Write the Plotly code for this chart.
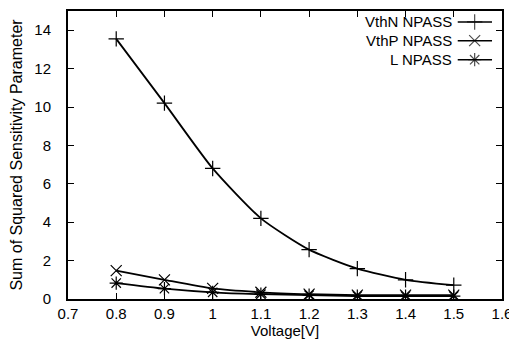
import plotly.graph_objects as go

voltage = [0.8, 0.9, 1.0, 1.1, 1.2, 1.3, 1.4, 1.5]
vthn_npass = [13.55, 10.2, 6.8, 4.2, 2.57, 1.58, 1.0, 0.72]
vthp_npass = [1.48, 1.0, 0.55, 0.35, 0.25, 0.2, 0.2, 0.2]
l_npass = [0.83, 0.54, 0.35, 0.25, 0.2, 0.15, 0.15, 0.15]
series_names = ["VthN NPASS", "VthP NPASS", "L NPASS"]
series_symbols = ["cross-thin-open", "x-thin-open", "asterisk-open"]
x_ticks = [0.7, 0.8, 0.9, 1.0, 1.1, 1.2, 1.3, 1.4, 1.5, 1.6]
x_tick_labels = ["0.7", "0.8", "0.9", "1", "1.1", "1.2", "1.3", "1.4", "1.5", "1.6"]
y_ticks = [0, 2, 4, 6, 8, 10, 12, 14]

FONT = "Liberation Sans, Arial, sans-serif"
fig = go.Figure()
for name, vals, sym in zip(series_names, [vthn_npass, vthp_npass, l_npass], series_symbols):
    fig.add_trace(go.Scatter(
        x=voltage, y=vals, mode="lines+markers", name=name,
        line=dict(color="black", width=1.8, shape="spline", smoothing=0.6),
        marker=dict(symbol=sym, size=11, color="black", line=dict(color="black", width=1.2)),
        showlegend=False))

# gnuplot-style key (text left, sample right) on an overlay axis
rows = [0.962, 0.897, 0.831]
for name, sym, ry in zip(series_names, series_symbols, rows):
    fig.add_trace(go.Scatter(
        x=[0.898, 0.937, 0.977], y=[ry, ry, ry], xaxis="x2", yaxis="y2",
        mode="lines+markers", showlegend=False, hoverinfo="skip",
        line=dict(color="black", width=1.5),
        marker=dict(symbol=sym, size=[0, 11, 0], color="black", line=dict(color="black", width=1.2))))
    fig.add_annotation(x=0.889, y=ry, xref="x2", yref="y2", text=name, showarrow=False,
                       xanchor="right", yanchor="middle",
                       font=dict(family=FONT, size=15, color="black"))

axis_common = dict(showline=True, linecolor="black", linewidth=2, mirror="ticks",
                   ticks="inside", ticklen=6, tickcolor="black", tickwidth=1,
                   showgrid=False, zeroline=False,
                   tickfont=dict(family=FONT, size=15, color="black"))
# page body has an 8px margin, so the figure is 8px smaller than the window
fig.update_layout(
    width=509, height=332,
    margin=dict(l=60, r=15, t=1, b=41),
    paper_bgcolor="white", plot_bgcolor="white",
    xaxis=dict(range=[0.7, 1.6], tickvals=x_ticks, ticktext=x_tick_labels,
               ticklabelstandoff=0,
               title=dict(text="Voltage[V]", font=dict(family=FONT, size=15, color="black"), standoff=0),
               **axis_common),
    yaxis=dict(range=[0, 15], tickvals=y_ticks, ticklabelstandoff=12,
               title=dict(text="Sum of Squared Sensitivity Parameter",
                          font=dict(family=FONT, size=16, color="black"), standoff=8),
               **axis_common),
    xaxis2=dict(overlaying="x", range=[0, 1], visible=False, fixedrange=True),
    yaxis2=dict(overlaying="y", range=[0, 1], visible=False, fixedrange=True),
)
fig.write_html("out.html")
